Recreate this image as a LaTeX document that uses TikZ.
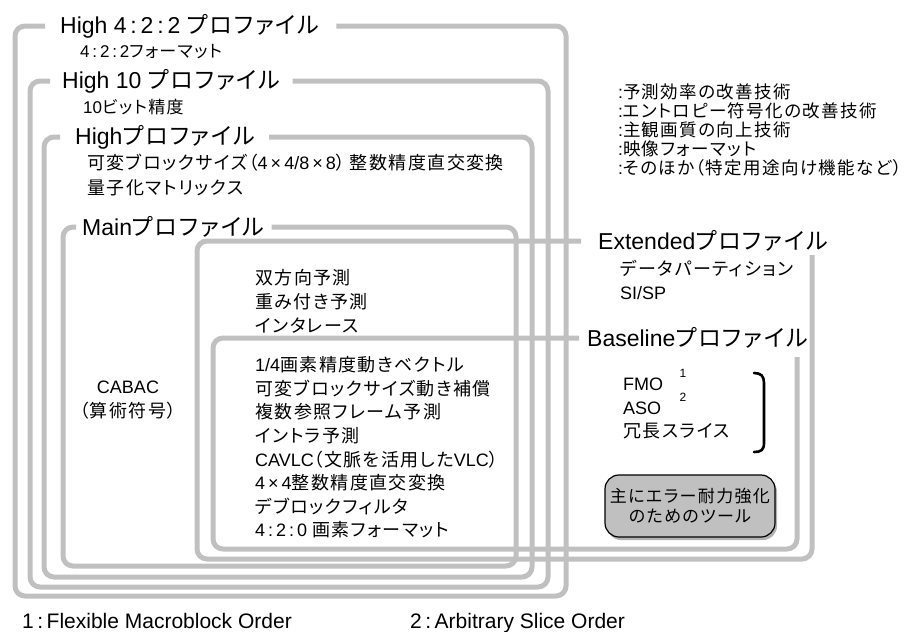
\documentclass[tikz,border=0pt]{standalone}
\usepackage{fontspec}
\setmainfont{Liberation Sans}
\newfontfamily\jpfont[RawFeature=+palt,LetterSpace=8]{Noto Sans CJK JP}
\newcommand\J[1]{{\jpfont #1}}
\newcommand\LP{\J{（}}
\newcommand\RP{\J{）}}
\usetikzlibrary{shadows}
\definecolor{lg}{RGB}{192,192,192}
\definecolor{toolfill}{RGB}{192,192,192}
\begin{document}
\begin{tikzpicture}[x=1pt,y=-1pt,
  boxline/.style={draw=lg, line width=5pt, rounded corners=10pt},
  ttl/.style={anchor=west, inner sep=0pt, font=\fontsize{23pt}{27pt}\selectfont},
  subtxt/.style={anchor=west, inner sep=0pt, font=\fontsize{17pt}{20pt}\selectfont},
  body/.style={anchor=west, inner sep=0pt, align=left, font=\fontsize{18pt}{23.6pt}\selectfont},
  legend/.style={anchor=west, inner sep=0pt, align=left, font=\fontsize{17.5pt}{19pt}\selectfont},
  supnum/.style={inner sep=0pt, font=\fontsize{12pt}{14pt}\selectfont},
  foot/.style={anchor=base west, inner sep=0pt, font=\fontsize{21pt}{24pt}\selectfont},
  tool/.style={draw=black, line width=1.2pt, fill=toolfill, rounded corners=14pt,
    minimum width=170pt, minimum height=62pt, align=center, inner sep=2pt,
    font=\fontsize{17pt}{20pt}\selectfont,
    drop shadow={shadow xshift=2pt, shadow yshift=-3pt, fill=black!60}}
]
\useasboundingbox (0,0) rectangle (911,632);

% titles
\node[ttl] (t422) at (60,26) {High 4\,:\,2\,:\,2 \J{プロファイル}};
\node[ttl] (t10) at (62,81) {High 10 \J{プロファイル}};
\node[ttl] (thigh) at (75,137) {High\J{プロファイル}};
\node[ttl] (tmain) at (82,227) {Main\J{プロファイル}};
\node[ttl] (text) at (598,241) {Extended\J{プロファイル}};
\node[ttl] (tbase) at (587,338) {Baseline\J{プロファイル}};

% profile boxes
\draw[boxline] ([xshift=-15pt]t422.west) -| (15,596) -| (566,26) -- ([xshift=17pt]t422.east);
\draw[boxline] ([xshift=-12pt]t10.west) -| (30,587) -| (548,81) -- ([xshift=12pt]t10.east);
\draw[boxline] ([xshift=-15pt]thigh.west) -| (44,577) -| (532,137) -- ([xshift=14pt]thigh.east);
\draw[boxline] ([xshift=-6pt]tmain.west) -| (63,566) -| (516,227) -- ([xshift=7pt]tmain.east);
\draw[boxline] ([xshift=-17pt]text.west) -| (197,559) -| (812,255);
\draw[boxline] ([xshift=-8pt]tbase.west) -| (213,549) -| (797,357);

% contents
\node[subtxt] (d422) at (80,52) {4\,:\,2\,:\,2\J{フォーマット}};
\node[subtxt] (d10) at (83,107) {10\J{ビット精度}};
\node[body, font=\fontsize{18pt}{25pt}\selectfont] (dhigh) at (87,175.5)
  {\J{可変ブロックサイズ}\LP 4\,×\,4/8\,×\,8\RP\ \J{整数精度直交変換}\\\J{量子化マトリックス}};
\node[body, align=center, anchor=center, font=\fontsize{18pt}{24pt}\selectfont] (cabac) at (128,400)
  {CABAC\\\LP\J{算術符号}\RP};
\node[body, font=\fontsize{18pt}{24pt}\selectfont] (dmain) at (255,301)
  {\J{双方向予測}\\\J{重み付き予測}\\\J{インタレース}};
\node[body] (dbase) at (255,447.5)
  {1/4\J{画素精度動きベクトル}\\
   \J{可変ブロックサイズ動き補償}\\
   \J{複数参照フレーム予測}\\
   \J{イントラ予測}\\
   CAVLC\LP\J{文脈を活用した}VLC\RP\\
   4\,×\,4\J{整数精度直交変換}\\
   \J{デブロックフィルタ}\\
   4\,:\,2\,:\,0 \J{画素フォーマット}};
\node[body, font=\fontsize{18pt}{24pt}\selectfont] (dext) at (620,280)
  {\J{データパーティション}\\SI/SP};
\node[body] (dfmo) at (623,408.5) {FMO\\ASO\\\J{冗長スライス}};
\node[supnum] (s1) at (683,373) {1};
\node[supnum] (s2) at (683,397) {2};
\draw[line width=2.6pt, line cap=round] (754,373) .. controls (761,373) and (764,376) .. (764,383)
  -- (764,443) .. controls (764,450) and (761,452) .. (754,452);
\node[tool] (tool) at (690,506) {\J{主にエラー耐力強化}\\\J{のためのツール}};

% legend
\node[legend] (leg) at (618,130)
  {:\J{予測効率の改善技術}\\
   :\J{エントロピー符号化の改善技術}\\
   :\J{主観画質の向上技術}\\
   :\J{映像フォーマット}\\
   :\J{そのほか}\LP\J{特定用途向け機能など}\RP};

% footnotes
\node[foot] (f1) at (22,628) {1\,:\,Flexible Macroblock Order};
\node[foot] (f2) at (410,628) {2\,:\,Arbitrary Slice Order};
\end{tikzpicture}
\end{document}
